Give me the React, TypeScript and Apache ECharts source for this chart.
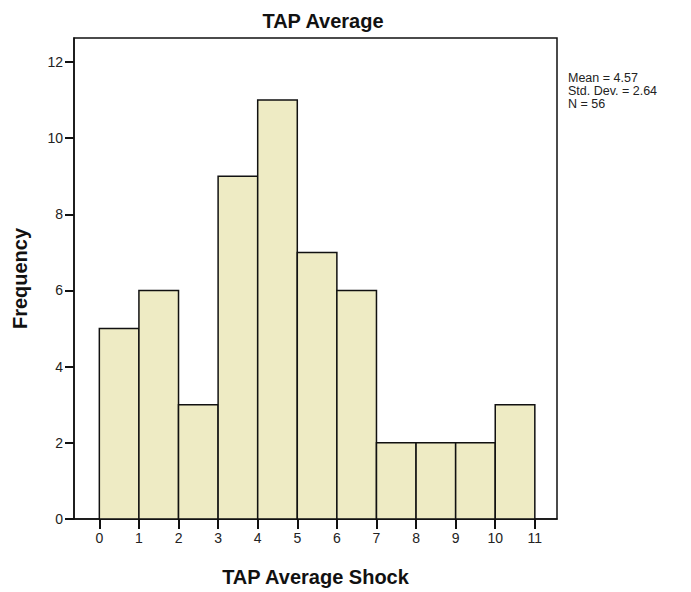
import React, { useEffect, useRef } from "react";
import * as echarts from "echarts";

const binStarts = [0, 1, 2, 3, 4, 5, 6, 7, 8, 9, 10];
const binEnds = [1, 2, 3, 4, 5, 6, 7, 8, 9, 10, 11];
const counts = [5, 6, 3, 9, 11, 7, 6, 2, 2, 2, 3];
const xTicks = [0, 1, 2, 3, 4, 5, 6, 7, 8, 9, 10, 11];
const yTicks = [0, 2, 4, 6, 8, 10, 12];
const statLines = ["Mean = 4.57", "Std. Dev. = 2.64", "N = 56"];

const FONT = "Liberation Sans, Arial, sans-serif";

export default function App() {
  const ref = useRef<HTMLDivElement>(null);
  useEffect(() => {
    if (!ref.current) return;
    const chart = echarts.init(ref.current, null, { renderer: "svg" });
    const data = binStarts.map((s, i) => [s, binEnds[i], counts[i]]);
    chart.setOption({
      animation: false,
      backgroundColor: "#ffffff",
      textStyle: { fontFamily: FONT },
      title: {
        text: "TAP Average",
        left: 318,
        textAlign: "center",
        top: 6,
        textStyle: { fontFamily: FONT, fontSize: 20, fontWeight: "bold", color: "#111" },
      },
      grid: {
        left: 74,
        top: 38,
        right: 134,
        bottom: 73,
        show: true,
        borderColor: "#111",
        borderWidth: 1.5,
        backgroundColor: "transparent",
      },
      xAxis: {
        type: "value",
        min: -0.64,
        max: 11.56,
        name: "TAP Average Shock",
        nameLocation: "middle",
        nameGap: 48,
        nameTextStyle: { fontFamily: FONT, fontSize: 20, fontWeight: "bold", color: "#111" },
        axisLine: { show: true, onZero: false, lineStyle: { color: "#111", width: 1.5 } },
        axisTick: { show: true, customValues: xTicks, length: 10, lineStyle: { color: "#111", width: 2 } },
        axisLabel: { customValues: xTicks, fontSize: 14, color: "#222", margin: 12, fontFamily: FONT },
        splitLine: { show: false },
      },
      yAxis: {
        type: "value",
        min: 0,
        max: 12.63,
        name: "Frequency",
        nameLocation: "middle",
        nameGap: 44,
        nameRotate: 90,
        nameTextStyle: { fontFamily: FONT, fontSize: 20, fontWeight: "bold", color: "#111" },
        axisLine: { show: true, onZero: false, lineStyle: { color: "#111", width: 1.5 } },
        axisTick: { show: true, customValues: yTicks, length: 9, lineStyle: { color: "#111", width: 2 } },
        axisLabel: { customValues: yTicks, fontSize: 14, color: "#222", margin: 11, fontFamily: FONT },
        splitLine: { show: false },
      },
      series: [
        {
          type: "custom",
          data,
          encode: { x: [0, 1], y: 2 },
          renderItem: (params: any, api: any) => {
            const x0 = api.value(0);
            const x1 = api.value(1);
            const c = api.value(2);
            const p0 = api.coord([x0, c]);
            const p1 = api.coord([x1, 0]);
            return {
              type: "rect",
              shape: { x: p0[0], y: p0[1], width: p1[0] - p0[0], height: p1[1] - p0[1] },
              style: { fill: "#eeebc4", stroke: "#111", lineWidth: 1.5 },
            };
          },
          z: 1,
        },
      ],
      graphic: statLines.map((t, i) => ({
        type: "text",
        left: 568,
        top: 71 + i * 13,
        style: {
          text: t,
          fontFamily: FONT,
          fontSize: 12.5,
          fill: "#222",
        },
      })),
    });
    return () => chart.dispose();
  }, []);
  return (
    <div
      ref={ref}
      style={{ position: "absolute", left: 0, top: 0, width: 691, height: 592 }}
    />
  );
}
